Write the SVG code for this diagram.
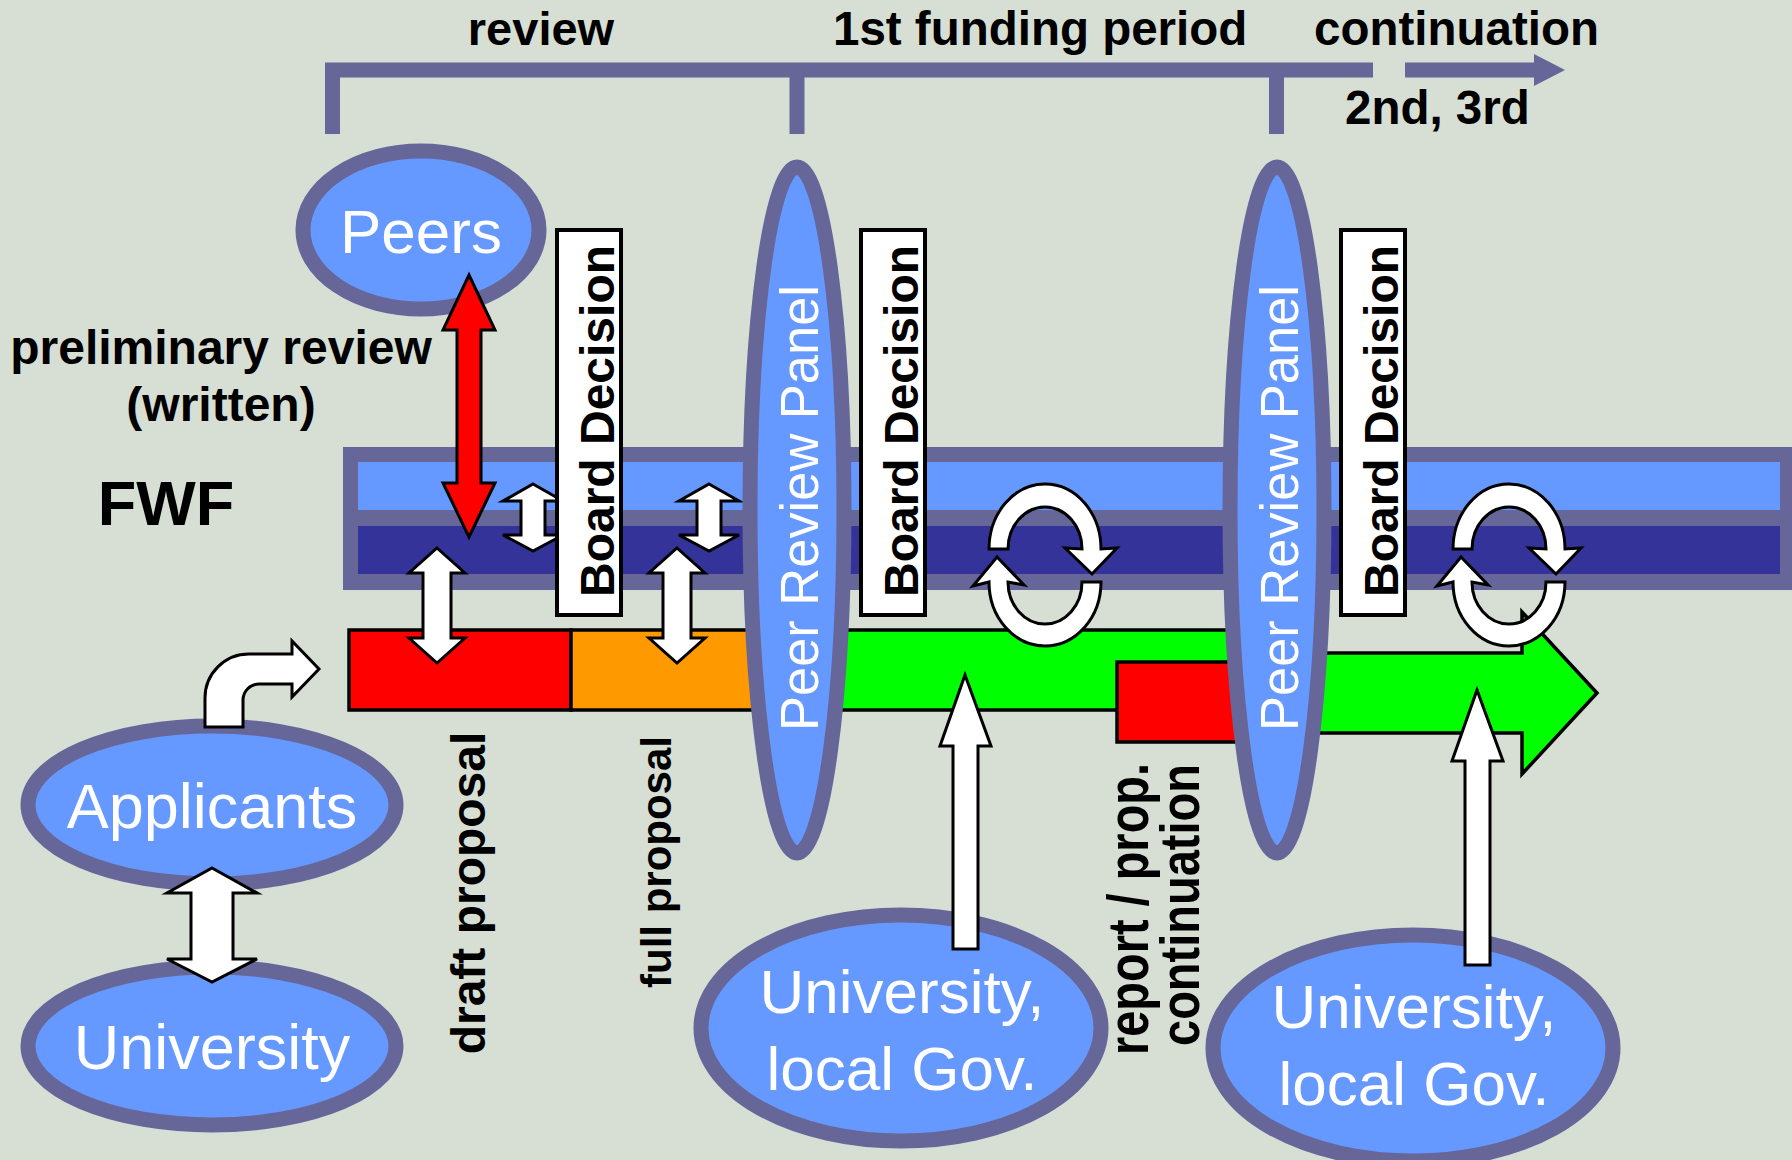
<svg xmlns="http://www.w3.org/2000/svg" width="1792" height="1160" viewBox="0 0 1792 1160">
<style>
.bt{font-family:"Liberation Sans",Arial,Helvetica,sans-serif;font-weight:bold;fill:#000}
.wt{font-family:"Liberation Sans",Arial,Helvetica,sans-serif;fill:#fff}
.node{fill:#6699FF;stroke:#666699;stroke-width:15}
.wa{fill:#fff;stroke:#000;stroke-width:3;stroke-linejoin:miter}
.box{fill:#fff;stroke:#000;stroke-width:4}
.seg{stroke:#000;stroke-width:3.5}
.brk{fill:none;stroke:#666699;stroke-width:15}
</style>
<defs>
<path id="cyc" d="M-56,-16 A56,65 0 0 1 56,-16 L72,-17 L47,9 L20,-17 L37,-16 A37,42 0 0 0 -37,-16 Z M56,17 A56,64 0 0 1 -56,17 L-72,21 L-48,-8 L-21,20 L-37,17 A37,42 0 0 0 37,17 Z"/>
</defs>
<rect width="1792" height="1160" fill="#D7DFD5"/>

<g id="timeline">
<path class="brk" d="M332.5,134 V70 H1373 M797,70 V134 M1276.5,70 V134 M1405,70 H1536"/>
<polygon points="1534,54 1565,70 1534,86" fill="#666699"/>
<text class="bt" x="541" y="45" font-size="47" text-anchor="middle">review</text>
<text class="bt" x="833" y="45" font-size="47.5">1st funding period</text>
<text class="bt" x="1314" y="45" font-size="47.5">continuation</text>
<text class="bt" x="1345" y="124" font-size="47.5">2nd, 3rd</text>
</g>

<g id="fwf">
<rect x="343" y="447" width="1460" height="143" fill="#666699"/>
<rect x="358" y="462" width="1422" height="48" fill="#6699FF"/>
<rect x="358" y="526" width="1422" height="48" fill="#333399"/>
<text class="bt" x="166" y="525" font-size="63" text-anchor="middle">FWF</text>
</g>

<g id="peers">
<ellipse class="node" cx="421" cy="230" rx="118" ry="79"/>
<text class="wt" x="421" y="253" font-size="62" text-anchor="middle">Peers</text>
</g>
<text class="bt" x="221" y="364" font-size="48" text-anchor="middle">preliminary review</text>
<text class="bt" x="221" y="421" font-size="48" text-anchor="middle">(written)</text>

<g id="proposals">
<rect class="seg" x="349" y="630" width="222" height="80" fill="#FF0000"/>
<rect class="seg" x="571" y="630" width="229" height="80" fill="#FF9900"/>
<rect class="seg" x="800" y="630" width="440" height="80" fill="#00FF00"/>
<rect class="seg" x="1117" y="662" width="123" height="80" fill="#FF0000"/>
<polygon class="seg" points="1240,653 1522,653 1522,612 1597,693 1522,774 1522,733 1240,733" fill="#00FF00"/>
</g>

<g id="connectors">
<path class="wa" d="M533,484 L563,501 L545,501 L545,535 L563,535 L533,551 L503,535 L521,535 L521,501 L503,501 Z"/>
<path class="wa" d="M709,484 L739,501 L721,501 L721,535 L739,535 L709,551 L679,535 L697,535 L697,501 L679,501 Z"/>
<path class="wa" d="M437,548 L465,573 L451,573 L451,638 L465,638 L437,663 L409,638 L423,638 L423,573 L409,573 Z"/>
<path class="wa" d="M677,548 L705,573 L691,573 L691,638 L705,638 L677,663 L649,638 L663,638 L663,573 L649,573 Z"/>
</g>

<g id="board1">
<rect class="box" x="557" y="230" width="64" height="385"/>
<text class="bt" transform="translate(614,421) rotate(-90)" font-size="48" text-anchor="middle">Board Decision</text>
</g>
<g id="board2">
<rect class="box" x="861" y="230" width="64" height="385"/>
<text class="bt" transform="translate(918,421) rotate(-90)" font-size="48" text-anchor="middle">Board Decision</text>
</g>
<g id="board3">
<rect class="box" x="1341" y="230" width="64" height="385"/>
<text class="bt" transform="translate(1398,421) rotate(-90)" font-size="48" text-anchor="middle">Board Decision</text>
</g>

<g id="panel1">
<ellipse class="node" cx="797" cy="510" rx="47" ry="343"/>
<text class="wt" transform="translate(818,508) rotate(-90)" font-size="53" text-anchor="middle" textLength="446" lengthAdjust="spacingAndGlyphs">Peer Review Panel</text>
</g>
<g id="panel2">
<ellipse class="node" cx="1277" cy="510" rx="47" ry="343"/>
<text class="wt" transform="translate(1298,508) rotate(-90)" font-size="53" text-anchor="middle" textLength="446" lengthAdjust="spacingAndGlyphs">Peer Review Panel</text>
</g>

<g id="cycles">
<use href="#cyc" class="wa" transform="translate(1045,565)"/>
<use href="#cyc" class="wa" transform="translate(1509,565)"/>
</g>

<g id="peerlink">
<path d="M469,275 L495,330 L481,330 L481,483 L495,483 L469,537 L443,483 L457,483 L457,330 L443,330 Z" fill="#FF0000" stroke="#000" stroke-width="3"/>
</g>

<g id="labels">
<text class="bt" transform="translate(485,893) rotate(-90)" font-size="48" text-anchor="middle">draft proposal</text>
<text class="bt" transform="translate(671,862) rotate(-90)" font-size="42" text-anchor="middle">full proposal</text>
<text class="bt" transform="translate(1148,909) rotate(-90)" font-size="58" text-anchor="middle" textLength="292" lengthAdjust="spacingAndGlyphs">report / prop.</text>
<text class="bt" transform="translate(1199,905) rotate(-90)" font-size="56" text-anchor="middle" textLength="282" lengthAdjust="spacingAndGlyphs">continuation</text>
</g>

<g id="gov1">
<ellipse class="node" cx="901" cy="1028" rx="200" ry="113"/>
<text class="wt" x="902" y="1013" font-size="62" text-anchor="middle">University,</text>
<text class="wt" x="902" y="1090" font-size="62" text-anchor="middle">local Gov.</text>
</g>
<g id="gov2">
<ellipse class="node" cx="1413" cy="1048" rx="200" ry="113"/>
<text class="wt" x="1414" y="1028" font-size="62" text-anchor="middle">University,</text>
<text class="wt" x="1414" y="1105" font-size="62" text-anchor="middle">local Gov.</text>
</g>
<g id="govarrows">
<polygon class="wa" points="953,949 953,746 940,746 965,675 991,746 978,746 978,949"/>
<polygon class="wa" points="1465,965 1465,761 1452,761 1477,690 1503,761 1490,761 1490,965"/>
</g>

<g id="applicants">
<ellipse class="node" cx="212" cy="805" rx="184" ry="79"/>
<text class="wt" x="212" y="828" font-size="63" text-anchor="middle">Applicants</text>
</g>
<g id="university">
<ellipse class="node" cx="212" cy="1046" rx="184" ry="79"/>
<text class="wt" x="212" y="1069" font-size="63" text-anchor="middle">University</text>
</g>
<g id="applinks">
<path class="wa" d="M205,727 L205,698 A44,44 0 0 1 249,654 L292,654 L292,641 L319,669 L292,697 L292,684 L259,684 A16,16 0 0 0 243,700 L243,727 Z"/>
<path class="wa" d="M212,868 L257,893 L233,893 L233,959 L257,959 L212,982 L167,959 L191,959 L191,893 L167,893 Z"/>
</g>
</svg>
